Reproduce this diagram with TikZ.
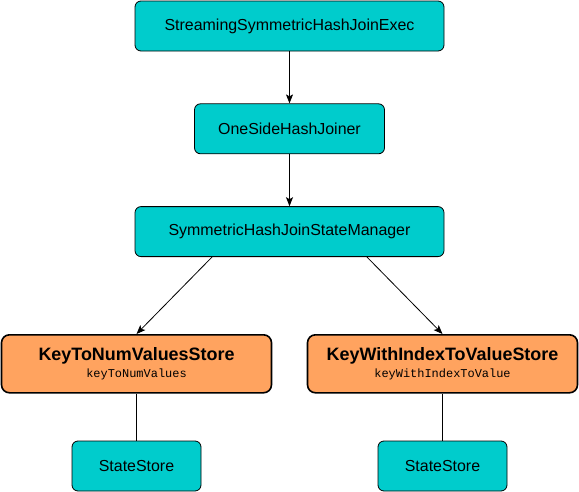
\documentclass[tikz,border=0pt]{standalone}
\usepackage{fontspec}
\setmainfont{Liberation Sans}
\setmonofont{Liberation Mono}
\usepackage{tikz}
\usetikzlibrary{arrows.meta}
\usetikzlibrary{positioning}
\usetikzlibrary{calc}

\definecolor{tealbox}{HTML}{00CCCC}
\definecolor{orangebox}{HTML}{FFA35F}

\begin{document}
\begin{tikzpicture}[->,>={Stealth[length=9bp,width=7bp,inset=2bp]},line width=0.8bp,
	class node/.style={rectangle,rounded corners=6bp,fill=tealbox,draw,
		minimum height=50bp,font=\fontsize{16}{19}\selectfont,inner sep=0pt},
	store node/.style={rectangle,rounded corners=8bp,fill=orangebox,draw,line width=1.6bp,
		minimum width=270bp,minimum height=58bp,align=center,inner sep=0pt}]

	\useasboundingbox (0,0) rectangle (579bp,-492bp);

	\node[class node,minimum width=309bp] (exec) at (289.5bp,-26bp) {StreamingSymmetricHashJoinExec};
	\node[class node,minimum width=190bp] (joiner) [below=52bp of exec] {OneSideHashJoiner};
	\node[class node,minimum width=309bp] (manager) [below=52bp of joiner] {SymmetricHashJoinStateManager};
	\node[store node] (keynum) [below=77bp of manager,xshift=-153bp]
		{{\fontsize{18}{21}\selectfont\bfseries KeyToNumValuesStore}\\[3bp]{\ttfamily\fontsize{12}{14}\selectfont keyToNumValues}};
	\node[store node] (keyindex) [below=77bp of manager,xshift=153bp]
		{{\fontsize{18}{21}\selectfont\bfseries KeyWithIndexToValueStore}\\[3bp]{\ttfamily\fontsize{12}{14}\selectfont keyWithIndexToValue}};
	\node[class node,minimum width=129bp] (leftstore) [below=47bp of keynum] {StateStore};
	\node[class node,minimum width=129bp] (rightstore) [below=47bp of keyindex] {StateStore};

	\path
		(exec) edge (joiner)
		(joiner) edge (manager)
		($(manager.south west)!0.25!(manager.south east)$) edge (keynum.north)
		($(manager.south west)!0.75!(manager.south east)$) edge (keyindex.north);

	\path[-]
		(keynum) edge (leftstore)
		(keyindex) edge (rightstore);

\end{tikzpicture}
\end{document}
